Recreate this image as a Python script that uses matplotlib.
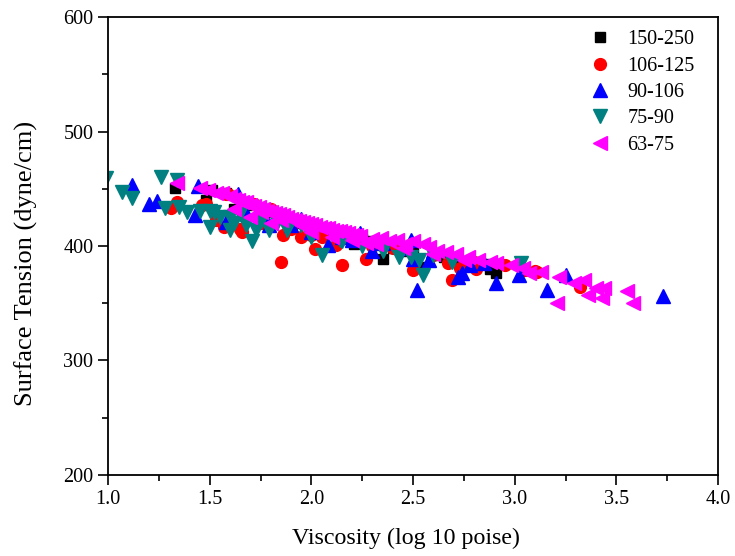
import matplotlib
matplotlib.use("Agg")
import matplotlib.pyplot as plt
from matplotlib.ticker import MultipleLocator

plt.rcParams['font.family'] = ['Liberation Serif', 'DejaVu Serif']

# Series: 150-250
x_150 = [1.33, 1.48, 1.51, 1.58, 1.62, 1.65, 1.70, 1.75, 1.80, 1.85, 1.90, 1.95, 2.00, 2.05,
         2.10, 2.15, 2.21, 2.25, 2.30, 2.35, 2.40, 2.45, 2.50, 2.55, 2.60, 2.65, 2.70, 2.80,
         2.85, 2.88, 2.91]
y_150 = [451, 440, 449, 446, 432, 440, 436, 433, 430, 428, 422, 420, 417, 414,
         412, 410, 402, 406, 404, 389, 398, 396, 394, 382, 392, 390, 388, 386,
         384, 380, 376]

# Series: 106-125
x_106 = [1.31, 1.34, 1.46, 1.48, 1.53, 1.57, 1.58, 1.59, 1.65, 1.66, 1.72, 1.75, 1.80, 1.85,
         1.86, 1.90, 1.95, 2.00, 2.02, 2.05, 2.12, 2.15, 2.20, 2.27, 2.30, 2.40, 2.50, 2.60,
         2.67, 2.69, 2.73, 2.80, 2.81, 2.95, 3.05, 3.10, 3.11, 3.32]
y_106 = [433, 438, 436, 437, 423, 417, 445, 445, 415, 412, 437, 420, 432, 386,
         410, 415, 408, 410, 397, 408, 401, 383, 405, 389, 400, 398, 379, 392,
         385, 370, 381, 386, 380, 383, 379, 378, 377, 364]

# Series: 90-106
x_90 = [1.12, 1.20, 1.24, 1.43, 1.44, 1.58, 1.64, 1.68, 1.76, 1.79, 1.90, 1.95, 2.00, 2.08,
        2.15, 2.20, 2.24, 2.30, 2.35, 2.45, 2.49, 2.50, 2.52, 2.58, 2.60, 2.72, 2.74, 2.78,
        2.85, 2.91, 3.02, 3.16, 3.25, 3.73]
y_90 = [453, 437, 439, 427, 452, 421, 445, 429, 425, 418, 418, 424, 412, 401,
        408, 405, 411, 396, 403, 398, 405, 389, 362, 388, 396, 373, 376, 383,
        385, 368, 375, 362, 375, 356]

# Series: 75-90
x_75 = [0.99, 1.07, 1.12, 1.26, 1.28, 1.34, 1.35, 1.39, 1.45, 1.50, 1.50, 1.52, 1.55, 1.60,
        1.60, 1.62, 1.65, 1.68, 1.71, 1.73, 1.75, 1.79, 1.83, 1.88, 1.95, 2.00, 2.05, 2.14,
        2.15, 2.25, 2.35, 2.43, 2.49, 2.53, 2.55, 2.60, 2.69, 3.03]
y_75 = [459, 447, 442, 460, 433, 458, 434, 430, 431, 417, 431, 430, 425, 414,
        425, 420, 428, 418, 404, 414, 422, 414, 420, 414, 418, 408, 392, 405,
        404, 400, 396, 390, 390, 388, 375, 392, 386, 385]

# Series: 63-75
x_63 = [1.34, 1.45, 1.49, 1.53, 1.56, 1.60, 1.62, 1.64, 1.66, 1.68, 1.70, 1.72, 1.74, 1.76,
        1.78, 1.80, 1.82, 1.84, 1.86, 1.88, 1.90, 1.92, 1.94, 1.96, 1.98, 2.00, 2.02, 2.04,
        2.06, 2.08, 2.10, 2.12, 2.14, 2.16, 2.18, 2.20, 2.22, 2.24, 2.27, 2.30, 2.34, 2.38,
        2.42, 2.46, 2.50, 2.55, 2.58, 2.62, 2.66, 2.71, 2.77, 2.82, 2.88, 2.91, 2.98, 3.04,
        3.07, 3.13, 3.21, 3.22, 3.29, 3.34, 3.36, 3.40, 3.43, 3.44, 3.55, 3.58,
        1.62, 1.70, 1.75, 1.80, 1.85, 1.95, 2.00, 2.10, 2.20, 2.32, 2.45, 2.60, 2.75]
y_63 = [455, 451, 449, 446, 446, 444, 441, 440, 438, 438, 436, 435, 434, 432,
        431, 430, 429, 428, 427, 425, 424, 423, 422, 421, 420, 419, 418, 417,
        416, 416, 414, 413, 413, 412, 411, 410, 410, 409, 403, 406, 407, 404,
        405, 402, 404, 402, 399, 396, 395, 393, 390, 388, 386, 385, 383, 381,
        376, 377, 350, 373, 368, 370, 357, 363, 355, 363, 361, 350,
        432, 425, 430, 420, 423, 418, 412, 408, 405, 402, 398, 393, 388]

labels = ['150-250', '106-125', '90-106', '75-90', '63-75']

fig = plt.figure(figsize=(7.35, 5.56), dpi=100)
ax = fig.add_axes([0.147, 0.1457, 0.83, 0.8237])

ax.plot(x_150, y_150, linestyle='none', marker='s', ms=7, color='black', label=labels[0])
ax.plot(x_106, y_106, linestyle='none', marker='o', ms=8.5, color='#ff0000', label=labels[1])
ax.plot(x_90, y_90, linestyle='none', marker='^', ms=9.5, color='#0000ff', label=labels[2])
ax.plot(x_75, y_75, linestyle='none', marker='v', ms=9.5, color='#008080', label=labels[3])
ax.plot(x_63, y_63, linestyle='none', marker='<', ms=9.5, color='#ff00ff', label=labels[4])

ax.set_xlim(1.0, 4.0)
ax.set_ylim(200, 600)
ax.xaxis.set_major_locator(MultipleLocator(0.5))
ax.xaxis.set_minor_locator(MultipleLocator(0.25))
ax.yaxis.set_major_locator(MultipleLocator(100))
ax.yaxis.set_minor_locator(MultipleLocator(50))
ax.xaxis.set_major_formatter(plt.FormatStrFormatter('%.1f'))
ax.tick_params(which='major', direction='out', length=7, width=1.2, labelsize=14.5,
               top=False, right=False)
ax.tick_params(which='minor', direction='out', length=4, width=1.2, top=False, right=False)
for s in ax.spines.values():
    s.set_linewidth(1.3)

ax.set_xlabel('Viscosity (log 10 poise)', fontsize=17.3)
ax.set_ylabel('Surface Tension (dyne/cm)', fontsize=19)
ax.xaxis.set_label_coords(0.489, -0.116)
ax.yaxis.set_label_coords(-0.115, 0.463)

ax.legend(loc='upper right', bbox_to_anchor=(0.985, 1.002), frameon=False, fontsize=14.5,
          handletextpad=0.75, labelspacing=0.36, borderaxespad=0.3, handlelength=1.2)

fig.savefig('out.png', dpi=100)
